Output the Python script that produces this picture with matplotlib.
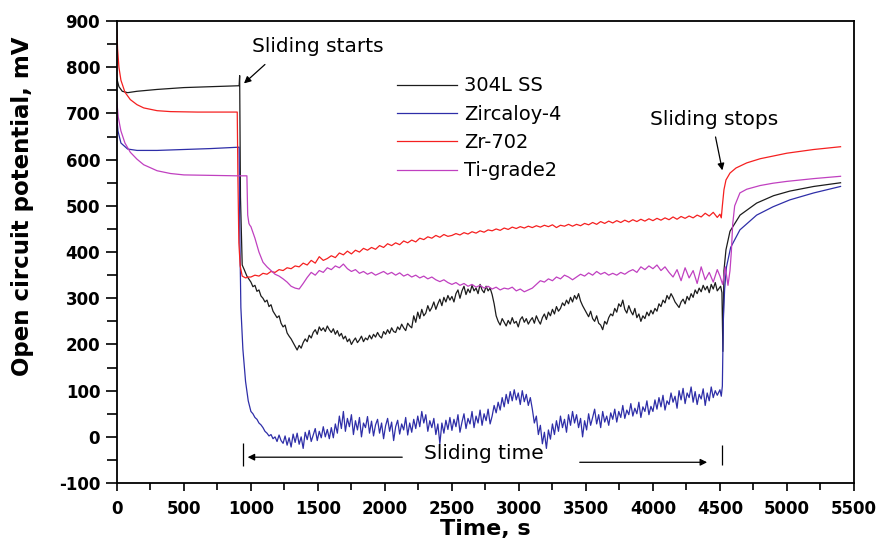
import numpy as np
import matplotlib
matplotlib.use("Agg")
import matplotlib.pyplot as plt
from matplotlib.ticker import MultipleLocator

plt.rcParams["font.family"] = ["DejaVu Sans"]
plt.rcParams["axes.unicode_minus"] = False

# time grids during sliding [s]
T_SLIDE = np.arange(1000, 4481, 30)
T_FINE = np.arange(1000, 4481, 15)

# 304L SS (read on the finer grid)
ss_pre_t = [0, 15, 40, 80, 150, 300, 500, 700, 905, 912, 916, 922, 935, 950, 970]
ss_pre_v = [775, 758, 748, 745, 748, 752, 756, 758, 760, 760, 782, 520, 372, 362, 348]
ss_slide = [
    335, 325, 328, 315, 318, 305, 300, 292, 296, 282, 286, 272, 265, 258, 262, 246, 238, 242, 225, 218,
    212, 204, 196, 188, 198, 192, 204, 212, 206, 220, 214, 226, 232, 222, 238, 230, 236, 228, 240, 232,
    226, 234, 222, 230, 218, 224, 212, 218, 206, 212, 200, 208, 214, 204, 210, 218, 206, 214, 210, 220,
    212, 222, 216, 226, 218, 214, 228, 222, 232, 224, 236, 228, 226, 238, 232, 244, 236, 230, 246, 240,
    236, 262, 248, 270, 256, 276, 262, 268, 284, 272, 280, 292, 276, 288, 298, 284, 302, 292, 306, 296,
    304, 292, 310, 318, 300, 316, 326, 308, 320, 312, 328, 316, 322, 310, 330, 318, 312, 326, 316, 322,
    308, 288, 262, 250, 242, 256, 248, 240, 252, 244, 258, 246, 250, 238, 254, 260, 248, 256, 244, 252,
    258, 246, 262, 252, 244, 258, 266, 254, 270, 262, 276, 266, 282, 272, 278, 290, 284, 296, 288, 302,
    292, 306, 298, 310, 294, 284, 276, 268, 260, 272, 256, 250, 262, 246, 242, 232, 250, 244, 258, 266,
    262, 278, 270, 288, 282, 296, 276, 268, 284, 272, 264, 278, 258, 266, 250, 262, 256, 270, 262, 274,
    266, 278, 272, 288, 282, 296, 290, 306, 298, 310, 302, 292, 286, 280, 292, 298, 288, 304, 296, 310,
    302, 318, 310, 322, 314, 328, 318, 326, 312, 330, 320, 334, 316,
]
ss_post_t = [4505, 4515, 4522, 4530, 4545, 4575, 4650, 4774, 4900, 5022, 5200, 5400]
ss_post_v = [326, 312, 185, 360, 405, 445, 480, 506, 522, 532, 542, 550]

# Zircaloy-4 (read on the finer grid)
zy_pre_t = [0, 8, 30, 80, 150, 300, 500, 700, 905, 912, 918, 925, 940, 960, 980]
zy_pre_v = [690, 662, 636, 623, 620, 620, 622, 624, 627, 627, 420, 280, 190, 120, 78]
zy_slide = [
    55, 50, 42, 38, 30, 26, 20, 12, 8, 2, 5, -4, 0, -10, 4, -8, -14, 2, -18, -2,
    -22, 6, -12, 8, -16, 0, -25, 10, -6, 14, -10, 4, 18, -8, 12, -2, 22, 0, 16, -4,
    20, -2, 28, 8, 45, 18, 55, 12, 40, 22, 48, 5, 35, 15, 42, 0, 30, 20, 44, 8,
    34, 2, 26, 38, 8, 30, -4, 24, 40, 12, 32, -8, 22, 36, 6, 28, 15, 42, 4, 30,
    10, 38, 18, 45, 22, 55, 30, 48, 12, 35, 20, 40, 5, 28, -15, 30, 8, 36, 16, 42,
    14, 38, 22, 48, 10, 32, 50, 18, 40, 28, 55, 20, 45, 30, 58, 25, 50, 35, 60, 28,
    45, 68, 52, 75, 58, 85, 65, 92, 72, 98, 78, 102, 80, 95, 70, 100, 76, 92, 68, 85,
    60, 30, 45, 5, 25, -15, 10, -25, 15, -5, 28, 5, 35, 12, 45, 20, 38, 10, 48, 25,
    55, 30, 48, 20, 40, 0, 35, 15, 50, 25, 42, 60, 28, 48, 20, 55, 32, 45, 25, 52,
    38, 60, 32, 55, 42, 68, 40, 58, 48, 72, 45, 62, 50, 75, 42, 65, 55, 78, 48, 66,
    55, 80, 60, 85, 65, 90, 58, 78, 70, 95, 75, 88, 62, 100, 80, 105, 72, 95, 85, 108,
    75, 98, 70, 92, 82, 104, 68, 95, 78, 108, 85, 100, 90,
]
zy_post_t = [4500, 4510, 4518, 4525, 4535, 4549, 4580, 4649, 4774, 4896, 5022, 5200, 5400]
zy_post_v = [102, 88, 110, 250, 320, 368, 410, 448, 480, 498, 513, 528, 542]

# Zr-702
zr_pre_t = [0, 5, 15, 30, 60, 100, 150, 200, 300, 400, 600, 898, 903, 910, 920, 935, 960, 980]
zr_pre_v = [880, 840, 800, 772, 746, 730, 719, 712, 706, 704, 703, 703, 560, 420, 370, 348, 344, 346]
zr_slide = [
    346, 350, 348, 354, 352, 358, 356, 362, 360, 366,
    364, 370, 368, 376, 372, 382, 376, 390, 382, 386,
    392, 388, 398, 394, 402, 396, 404, 400, 408, 404,
    410, 406, 414, 410, 418, 414, 420, 416, 424, 420,
    426, 422, 430, 427, 433, 430, 436, 432, 438, 434,
    436, 440, 437, 442, 439, 444, 441, 446, 443, 448,
    446, 450, 447, 452, 449, 454, 451, 455, 452, 456,
    453, 457, 454, 458, 455, 459, 453, 458, 456, 460,
    456, 460, 457, 462, 459, 464, 460, 466, 462, 467,
    463, 468, 464, 469, 465, 470, 466, 471, 467, 472,
    468, 473, 469, 474, 470, 476, 471, 477, 473, 478,
    474, 480, 476, 484, 478, 486, 475,
]
zr_post_t = [4500, 4510, 4518, 4530, 4545, 4575, 4620, 4700, 4800, 5000, 5200, 5400]
zr_post_v = [482, 474, 500, 535, 556, 571, 582, 593, 602, 614, 622, 628]

# Ti-grade2
ti_pre_t = [0, 10, 30, 60, 100, 150, 200, 300, 400, 500, 700, 900, 970, 976, 985, 992]
ti_pre_v = [725, 692, 662, 636, 616, 601, 589, 576, 570, 567, 566, 565, 565, 480, 462, 458]
ti_slide = [
    455, 430, 400, 378, 368, 360, 352, 348, 342, 335,
    326, 322, 320, 332, 345, 356, 350, 360, 356, 366,
    362, 370, 366, 374, 364, 358, 362, 354, 358, 352,
    356, 350, 354, 358, 352, 356, 350, 355, 348, 352,
    346, 350, 344, 348, 342, 346, 340, 336, 340, 334,
    330, 334, 328, 332, 326, 330, 324, 328, 322, 326,
    320, 324, 318, 322, 320, 324, 316, 320, 314, 318,
    322, 330, 338, 335, 342, 338, 346, 342, 350, 346,
    340, 346, 352, 348, 355, 350, 358, 352, 356, 350,
    354, 350, 356, 352, 358, 362, 356, 368, 362, 370,
    364, 372, 360, 368, 356, 346, 362, 338, 366, 344,
    360, 332, 368, 340, 356, 335, 362,
]
ti_post_t = [4500, 4520, 4540, 4560, 4575, 4585, 4595, 4610, 4649, 4700, 4800, 4896, 5000, 5200, 5400]
ti_post_v = [348, 330, 368, 328, 360, 400, 460, 500, 528, 536, 544, 549, 553, 559, 564]

LABELS = ["304L SS", "Zircaloy-4", "Zr-702", "Ti-grade2"]
COLOURS = ["#1c1c1c", "#2e2ea8", "#f52020", "#c040c0"]

SLIDE_START = 940
SLIDE_END = 4515

series = [
    (ss_pre_t, ss_pre_v, T_FINE, ss_slide, ss_post_t, ss_post_v),
    (zy_pre_t, zy_pre_v, T_FINE, zy_slide, zy_post_t, zy_post_v),
    (zr_pre_t, zr_pre_v, T_SLIDE, zr_slide, zr_post_t, zr_post_v),
    (ti_pre_t, ti_pre_v, T_SLIDE, ti_slide, ti_post_t, ti_post_v),
]

fig = plt.figure(figsize=(8.79, 5.44), dpi=100)
ax = fig.add_axes([0.133, 0.112, 0.8385, 0.8493])

for (pt, pv, st, sv, qt, qv), lab, col in zip(series, LABELS, COLOURS):
    t = np.concatenate([pt, st, qt])
    v = np.concatenate([pv, sv, qv])
    ax.plot(t, v, color=col, lw=0.9, label=lab)

ax.set_xlim(0, 5500)
ax.set_ylim(-100, 900)
ax.xaxis.set_major_locator(MultipleLocator(500))
ax.xaxis.set_minor_locator(MultipleLocator(250))
ax.yaxis.set_major_locator(MultipleLocator(100))
ax.yaxis.set_minor_locator(MultipleLocator(50))
ax.tick_params(which="both", direction="out", width=1.2, top=False, right=False)
ax.tick_params(axis="y", which="major", length=8, pad=4)
ax.tick_params(axis="y", which="minor", length=7)
ax.tick_params(axis="x", which="major", length=6, pad=6)
ax.tick_params(axis="x", which="minor", length=5)
for lbl in ax.get_xticklabels() + ax.get_yticklabels():
    lbl.set_fontsize(12)
    lbl.set_fontweight("bold")
for s in ax.spines.values():
    s.set_linewidth(1.3)

ax.set_xlabel("Time, s", fontsize=16, fontweight="bold", labelpad=1)
ax.set_ylabel("Open circuit potential, mV", fontsize=16.5, fontweight="bold")
ax.yaxis.set_label_coords(-0.113, 0.60)

ax.legend(loc="upper left", bbox_to_anchor=(0.3565, 0.918), frameon=False,
          fontsize=14, handlelength=3.1, labelspacing=0.48, handletextpad=0.35)

arrow = dict(arrowstyle="-|>", color="k", lw=0.9, mutation_scale=10)
ax.annotate("", xy=(933, 761), xytext=(1120, 810), arrowprops=arrow)
ax.text(1500, 844, "Sliding starts", fontsize=14.5, ha="center", va="center")
ax.annotate("", xy=(4522, 571), xytext=(4463, 655), arrowprops=arrow)
ax.text(4455, 686, "Sliding stops", fontsize=14.5, ha="center", va="center")

ax.text(2740, -35, "Sliding time", fontsize=14.5, ha="center", va="center")
ax.annotate("", xy=(955, -44), xytext=(2150, -44), arrowprops=arrow)
ax.annotate("", xy=(4425, -55), xytext=(3433, -55), arrowprops=arrow)
ax.vlines([SLIDE_START], -62, -13, color="k", lw=0.9)
ax.vlines([SLIDE_END], -61, -18, color="k", lw=0.9)

fig.savefig("out.png", dpi=100)
